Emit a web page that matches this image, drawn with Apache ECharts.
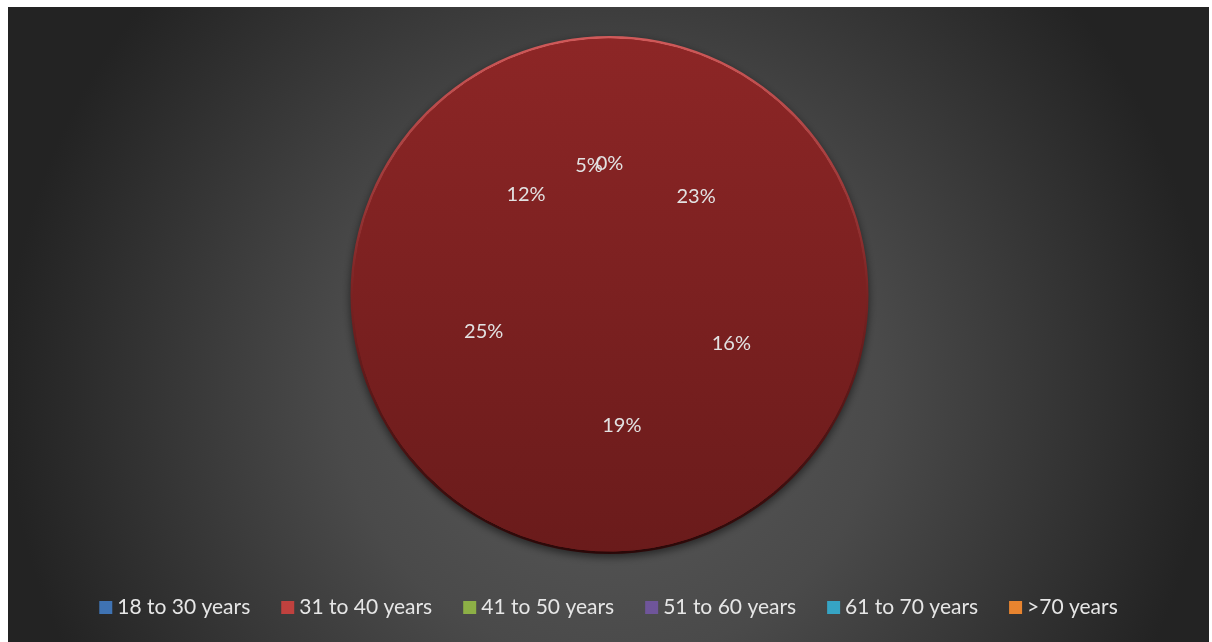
<!DOCTYPE html>
<html>
<head>
<meta charset="utf-8">
<script src="https://cdn.jsdelivr.net/npm/echarts@6/dist/echarts.min.js"></script>
<style>
  html, body { margin: 0; padding: 0; background: #ffffff; }
  #chart { position: absolute; left: 8px; top: 7px; width: 1201px; height: 635px; }
</style>
</head>
<body>
<div id="chart"></div>
<script>
// 数据：第一个分类为空（0%），其余为年龄段
var categories = ['(blank)', '18 to 30 years', '31 to 40 years', '41 to 50 years', '51 to 60 years', '61 to 70 years', '>70 years'];
var values = [0, 23, 16, 19, 25, 12, 5];
var legendNames = ['18 to 30 years', '31 to 40 years', '41 to 50 years', '51 to 60 years', '61 to 70 years', '>70 years'];
var legendColors = ['#3f73b3', '#c0413e', '#8db046', '#6f559a', '#36a4c4', '#e8842f'];

var myChart = echarts.init(document.getElementById('chart'));

var pieData = [];
for (var i = 0; i < categories.length; i++) {
    pieData.push({ name: categories[i], value: values[i] });
}

var legendData = [];
for (var j = 0; j < legendNames.length; j++) {
    legendData.push({ name: legendNames[j], itemStyle: { color: legendColors[j], borderWidth: 0 } });
}

var cx = 601.5, cy = 288, R = 259;

function redFill() {  // 饼图整体的竖向渐变
    return {
        type: 'linear', global: true, x: 0, y: cy - R, x2: 0, y2: cy + R,
        colorStops: [
            { offset: 0, color: '#8d2626' },
            { offset: 1, color: '#6a1b1b' }
        ]
    };
}

var option = {
    backgroundColor: {
        type: 'radial', x: 0.5, y: 0.6, r: 0.95,
        colorStops: [
            { offset: 0, color: '#5a5a5a' },
            { offset: 0.45, color: '#4a4a4a' },
            { offset: 1, color: '#232323' }
        ]
    },
    textStyle: { fontFamily: 'Lato' },
    legend: {
        data: legendData,
        left: 'center',
        top: 585,
        itemWidth: 13,
        itemHeight: 13,
        itemGap: 31,
        icon: 'rect',
        selectedMode: false,
        itemStyle: { borderWidth: 0 },
        textStyle: { color: '#e6e6e6', fontSize: 21, fontFamily: 'Lato' }
    },
    series: [
        {   // 底盘：边缘和阴影
            type: 'pie',
            silent: true,
            center: [cx, cy],
            radius: R,
            label: { show: false },
            labelLine: { show: false },
            data: [{ value: 1, name: 'rim' }],
            itemStyle: {
                color: {
                    type: 'linear', global: true, x: 0, y: cy - R, x2: 0, y2: cy + R,
                    colorStops: [
                        { offset: 0, color: '#d05a5a' },
                        { offset: 0.5, color: '#7a2222' },
                        { offset: 1, color: '#2a0808' }
                    ]
                },
                shadowBlur: 8,
                shadowOffsetY: 3,
                shadowColor: 'rgba(0,0,0,0.55)'
            }
        },
        {
            type: 'pie',
            center: [cx, cy],
            radius: R - 3,
            startAngle: 90,
            clockwise: true,
            avoidLabelOverlap: false,
            minShowLabelAngle: 0,
            labelLayout: { hideOverlap: false },
            data: pieData,
            itemStyle: {
                color: redFill(),
                borderColor: redFill(),
                borderWidth: 1
            },
            label: {
                show: true,
                position: 'inside',
                color: '#e2e2e2',
                fontSize: 20,
                fontFamily: 'Lato',
                overflow: 'none',
                formatter: function (p) { return Math.round(p.value) + '%'; }
            },
            labelLine: { show: false },
            emphasis: { disabled: true }
        }
    ]
};

myChart.setOption(option);
window.addEventListener('resize', function () {
    myChart.resize();
});
</script>
</body>
</html>
